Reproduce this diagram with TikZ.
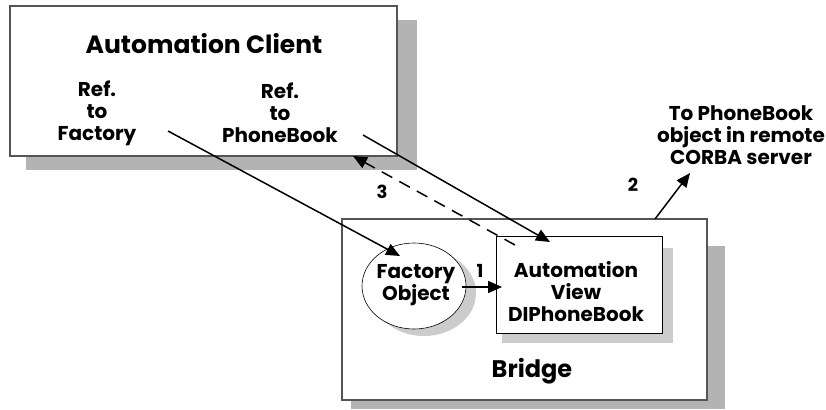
\documentclass[tikz,border=0pt]{standalone}
\usepackage{fontspec}
\setmainfont{Poppins}
\usetikzlibrary{arrows.meta}
\definecolor{shadowdark}{HTML}{B3B3B3}
\definecolor{shadowlight}{HTML}{CCCCCC}
\definecolor{frame}{HTML}{555555}
\begin{document}
\begin{tikzpicture}[x=1pt,y=-1pt,
  lbl/.style={font=\fontsize{20}{22}\selectfont\bfseries, align=center, inner sep=0pt},
  biglbl/.style={font=\fontsize{25}{28}\selectfont\bfseries, inner sep=0pt},
  midlbl/.style={font=\fontsize{24}{26}\selectfont\bfseries, inner sep=0pt},
  num/.style={font=\fontsize{18}{20}\selectfont\bfseries, inner sep=0pt},
  conn/.style={line width=1.5pt, -{Triangle[length=14pt,width=12pt]}},
  dconn/.style={conn, dash pattern=on 12pt off 8pt}]
\useasboundingbox (0,0) rectangle (826,409);
% client
\fill[shadowdark] (26,20) rectangle (417,170);
\draw[frame, fill=white, line width=1.2pt] (10,6) rectangle (397,156);
% bridge
\fill[shadowdark] (351,246) rectangle (725,409);
\draw[frame, fill=white, line width=1.2pt] (342,219) rectangle (707,400);
% view box
\fill[shadowlight] (502,248) rectangle (673,343);
\draw[black, fill=white, line width=0.9pt] (496,236) rectangle (662,333);
% ellipse
\fill[shadowlight] (424,293) ellipse [x radius=52, y radius=43];
\draw[black, fill=white, line width=0.6pt] (414,286) ellipse [x radius=52, y radius=43];

\node[biglbl] (client) at (204,44) {Automation Client};
\node[lbl] (reffac) at (97,113) {Ref.\\to\\Factory};
\node[lbl] (refpb) at (280,113) {Ref.\\to\\PhoneBook};
\node[lbl] (fac) at (416,285) {Factory\\Object};
\node[lbl] (view) at (576,292) {Automation\\View\\DIPhoneBook};
\node[midlbl] (bridge) at (532,371) {Bridge};
\node[lbl] (corba) at (741,135) {To PhoneBook\\object in remote\\CORBA server};
\node[num] (n1) at (480,271) {1};
\node[num] (n2) at (633,185) {2};
\node[num] (n3) at (382,192) {3};

\coordinate (a1s) at (168,131);
\coordinate (a1e) at (400,256);
\coordinate (a2s) at (363,135);
\coordinate (a2e) at (550,242);
\coordinate (a3s) at (515,245);
\coordinate (a3e) at (353,156);
\coordinate (a4s) at (462,287);
\coordinate (a4e) at (502,287);
\coordinate (a5s) at (655,219);
\coordinate (a5e) at (690,173);

\draw[conn] (a1s) -- (a1e);
\draw[conn] (a2s) -- (a2e);
\draw[dconn] (a3s) -- (a3e);
\draw[conn] (a4s) -- (a4e);
\draw[conn] (a5s) -- (a5e);
\end{tikzpicture}
\end{document}
